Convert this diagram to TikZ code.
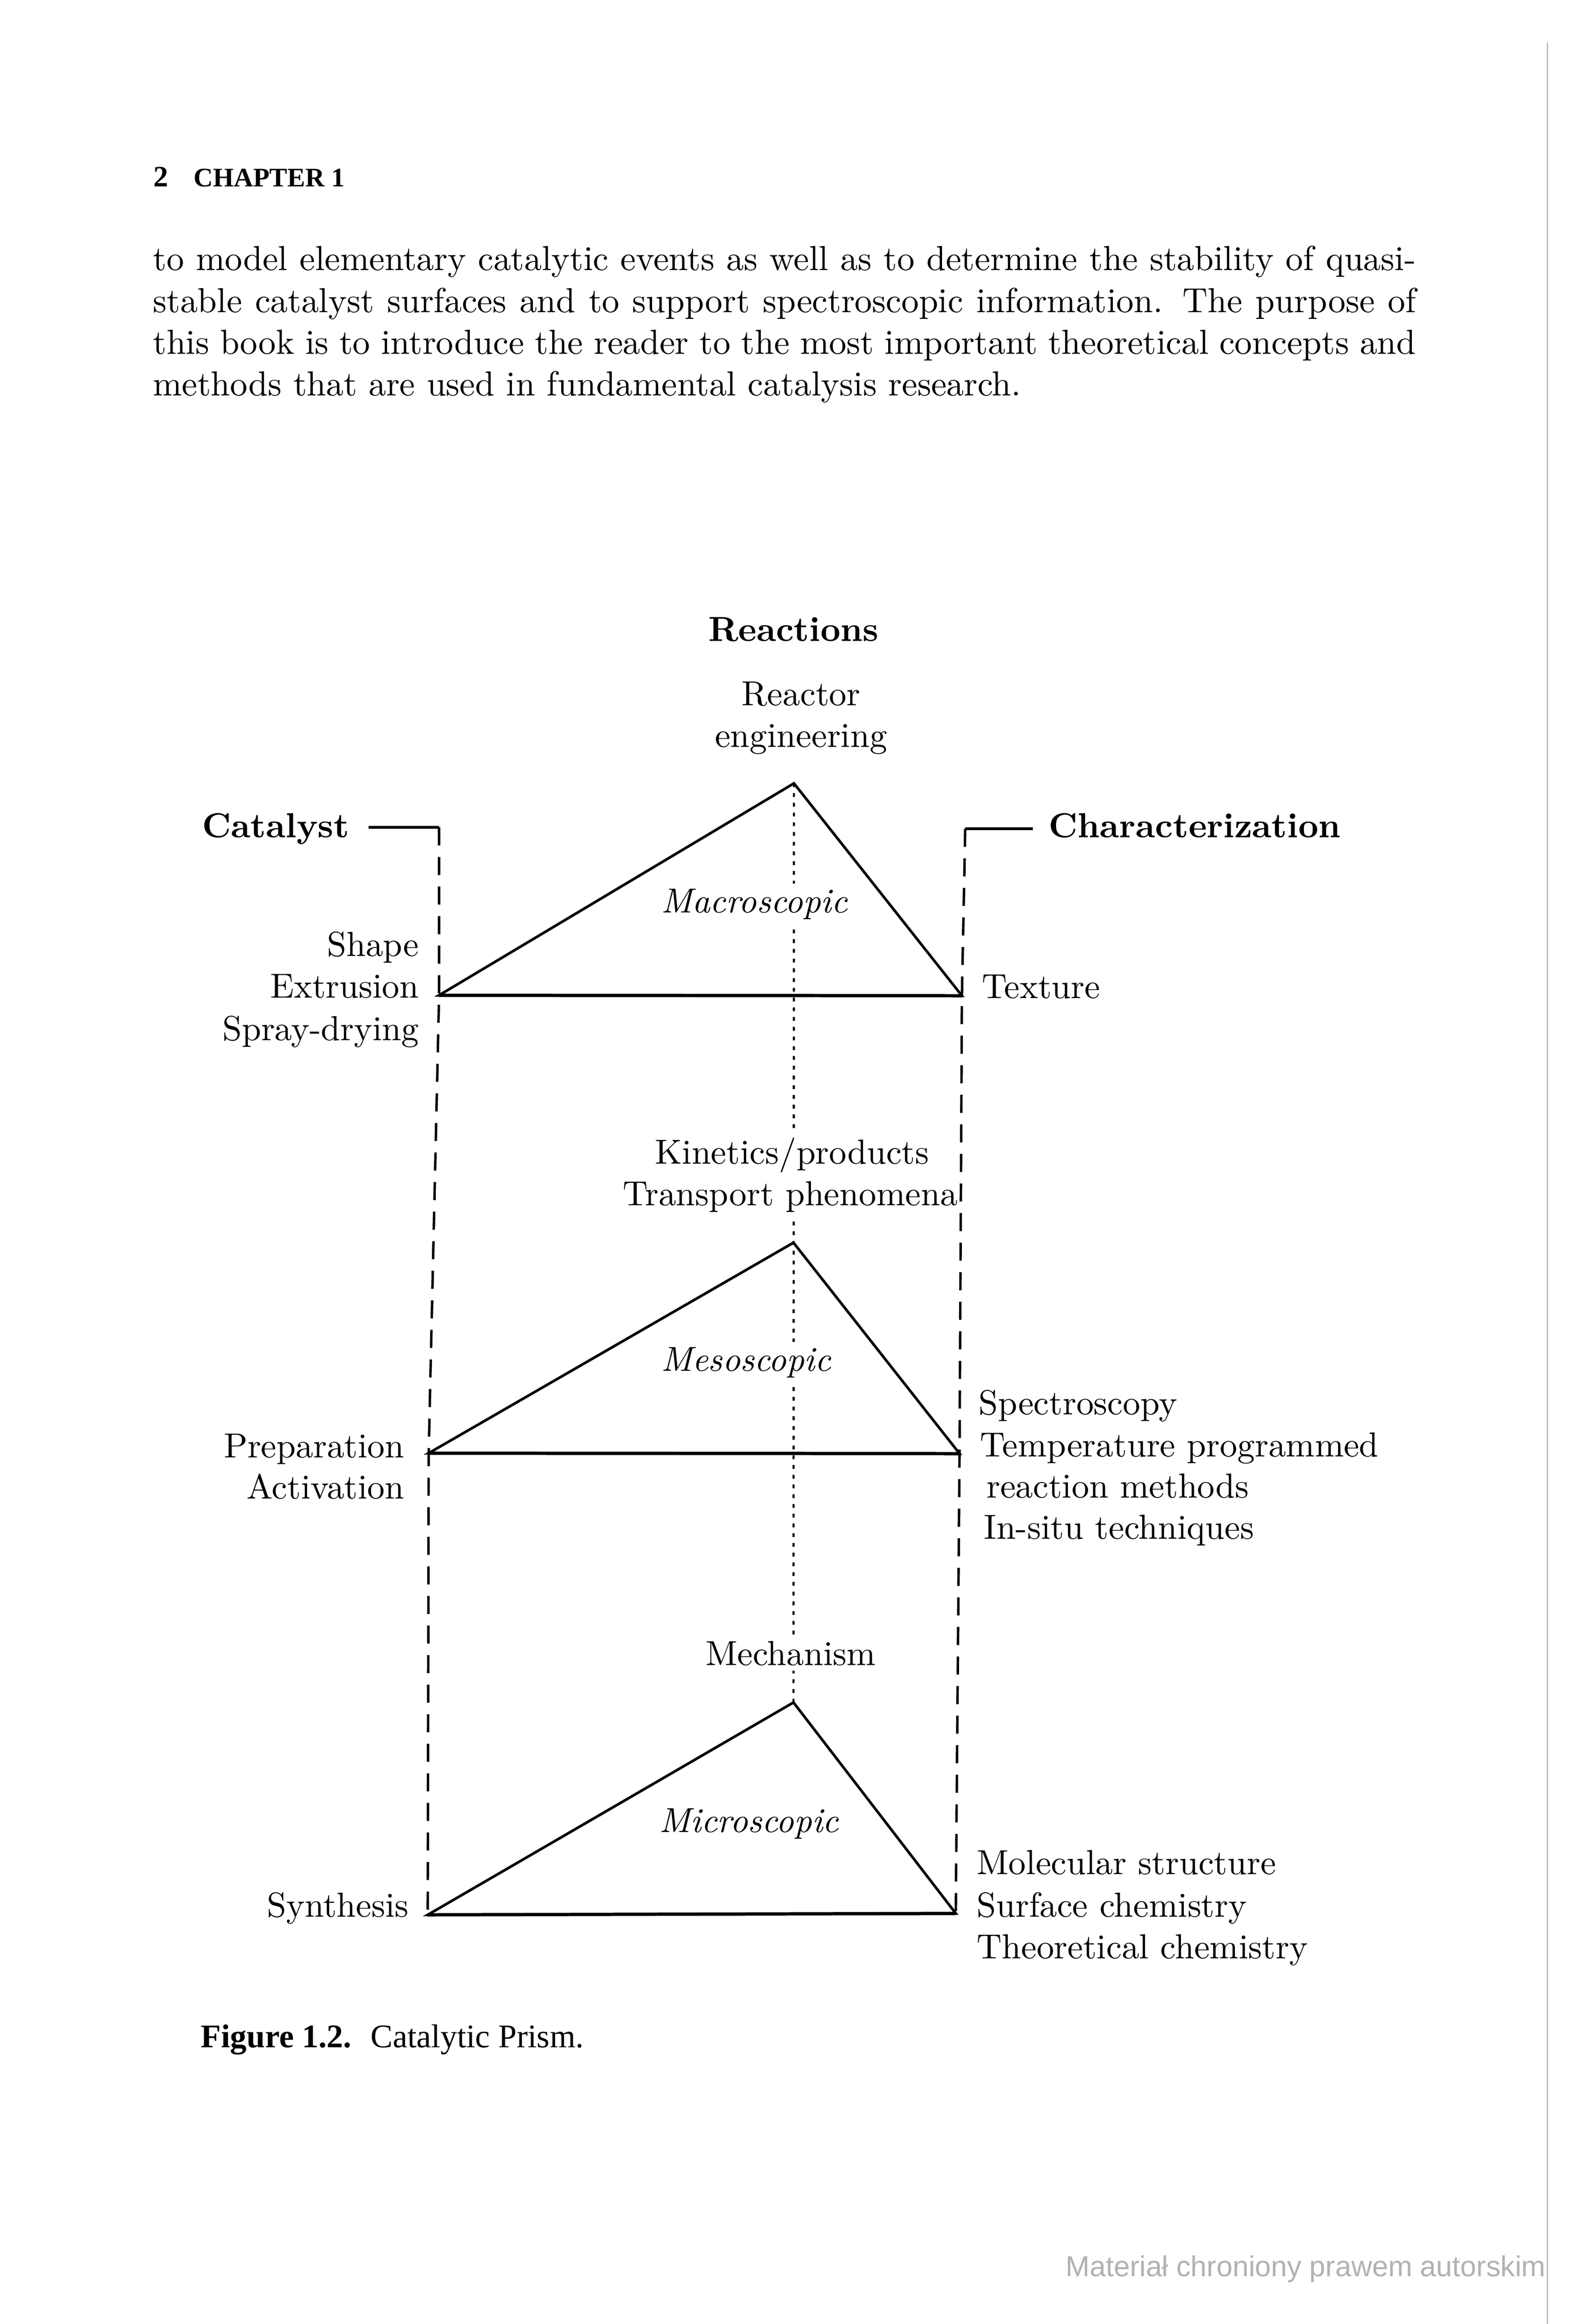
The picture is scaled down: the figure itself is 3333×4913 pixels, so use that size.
\documentclass[tikz,border=0pt]{standalone}
\usepackage{fontspec}
\newfontfamily\timesfont{Liberation Serif}
\newfontfamily\arialfont{Liberation Sans}
\begin{document}
\begin{tikzpicture}[x=0.136pt,y=-0.136pt,
  lbl/.style={inner sep=0pt, font=\fontsize{10}{12}\selectfont},
  mask/.style={lbl, fill=white, inner xsep=0.5pt, inner ysep=1.5pt},
  tri/.style={line width=0.75pt, line join=miter},
  triBase/.style={line width=0.95pt},
  sideline/.style={line width=0.7pt, dash pattern=on 5.2pt off 3.3pt},
  centerline/.style={line width=0.6pt, dash pattern=on 1.1pt off 1.7pt},
  bracket/.style={line width=0.8pt},
  pageedge/.style={line width=0.4pt, black!25}]
\useasboundingbox (0,0) rectangle (3333,4913);

% page edge and header
\coordinate (edgeTop) at (3270,90);
\coordinate (edgeBot) at (3270,4913);
\draw[pageedge] (edgeTop) -- (edgeBot);
\node[inner sep=0pt, anchor=base west] (hnum) at (323,394) {\timesfont\bfseries\fontsize{8.5}{10}\selectfont 2};
\node[inner sep=0pt, anchor=base west] (hchap) at (408,394) {\timesfont\bfseries\fontsize{7.7}{9}\selectfont CHAPTER 1};

% body text
\node[lbl, anchor=base west] (t1) at (322,571) {\hbox to 363pt{to model elementary catalytic events as well as to determine the stability of quasi-}};
\node[lbl, anchor=base west] (t2) at (322,660) {\hbox to 363pt{stable catalyst surfaces and to support spectroscopic information. The purpose of}};
\node[lbl, anchor=base west] (t3) at (322,748) {\hbox to 363pt{this book is to introduce the reader to the most important theoretical concepts and}};
\node[lbl, anchor=base west] (t4) at (322,836) {methods that are used in fundamental catalysis research.};

% vertices
\coordinate (A1) at (1678,1656);
\coordinate (L1) at (928,2104);
\coordinate (R1) at (2033,2105);
\coordinate (A2) at (1677,2627);
\coordinate (L2) at (906,3072);
\coordinate (R2) at (2028,3073);
\coordinate (A3) at (1677,3599);
\coordinate (L3) at (904,4048);
\coordinate (R3) at (2020,4045);
\coordinate (catEnd) at (779,1749);
\coordinate (catCorner) at (928,1749);
\coordinate (chaEnd) at (2183,1752);
\coordinate (chaCorner) at (2040,1752);

% central dotted axis
\draw[centerline] (A1) -- (A3);

% side dashed edges and brackets
\draw[sideline] (catCorner) -- (L1) -- (L2) -- (L3);
\draw[sideline] (chaCorner) -- (R1) -- (R2) -- (R3);
\draw[bracket] (catEnd) -- (catCorner);
\draw[bracket] (chaEnd) -- (chaCorner);

% top labels
\node[lbl, anchor=base] (reactions) at (1677,1355) {\bfseries Reactions};
\node[lbl, anchor=base] (reactor) at (1693,1491) {Reactor};
\node[lbl, anchor=base] (engineering) at (1693,1579) {engineering};
\node[lbl, anchor=base west] (catalyst) at (426,1770) {\bfseries Catalyst};
\node[lbl, anchor=base west] (charact) at (2215,1770) {\bfseries Characterization};

% macroscopic level
\node[mask, anchor=base west] (macro) at (1392,1929) {\itshape Macroscopic};
\node[lbl, anchor=base east] (shape) at (887,2021) {Shape};
\node[lbl, anchor=base east] (extrusion) at (887,2109) {Extrusion};
\node[lbl, anchor=base east] (spray) at (887,2199) {Spray-drying};
\node[lbl, anchor=base west] (texture) at (2074,2110) {Texture};

% mesoscopic level
\node[mask, anchor=base] (kinetics) at (1674,2460) {Kinetics/products};
\node[mask, anchor=base] (transport) at (1670,2548) {Transport phenomena};
\node[mask, anchor=base west] (meso) at (1392,2898) {\itshape Mesoscopic};
\node[lbl, anchor=base east] (prep) at (856,3081) {Preparation};
\node[lbl, anchor=base east] (activ) at (856,3168) {Activation};
\node[lbl, anchor=base west] (spectro) at (2067,2990) {Spectroscopy};
\node[lbl, anchor=base west] (tpr) at (2070,3079) {Temperature programmed};
\node[lbl, anchor=base west] (rmeth) at (2084,3166) {reaction methods};
\node[lbl, anchor=base west] (insitu) at (2078,3253) {In-situ techniques};

% microscopic level
\node[mask, anchor=base] (mech) at (1671,3520) {Mechanism};
\node[lbl, anchor=base west] (micro) at (1392,3873) {\itshape Microscopic};
\node[lbl, anchor=base east] (synth) at (865,4052) {Synthesis};
\node[lbl, anchor=base west] (molec) at (2063,3962) {Molecular structure};
\node[lbl, anchor=base west] (surf) at (2063,4052) {Surface chemistry};
\node[lbl, anchor=base west] (theo) at (2063,4140) {Theoretical chemistry};

% triangles
\draw[tri] (L1) -- (A1) -- (R1) -- cycle;
\draw[triBase] (L1) -- (R1);
\draw[tri] (L2) -- (A2) -- (R2) -- cycle;
\draw[triBase] (L2) -- (R2);
\draw[tri] (L3) -- (A3) -- (R3) -- cycle;
\draw[triBase] (L3) -- (R3);

% caption and watermark
\node[inner sep=0pt, anchor=base west] (caption) at (423,4328) {\timesfont\fontsize{9.5}{11}\selectfont\textbf{Figure 1.2.}\hspace{5.5pt}Catalytic Prism.};
\node[inner sep=0pt, anchor=base west, text=black!30] (wmark) at (2251,4812) {\arialfont\fontsize{8.3}{10}\selectfont Materiał chroniony prawem autorskim};
\end{tikzpicture}
\end{document}
